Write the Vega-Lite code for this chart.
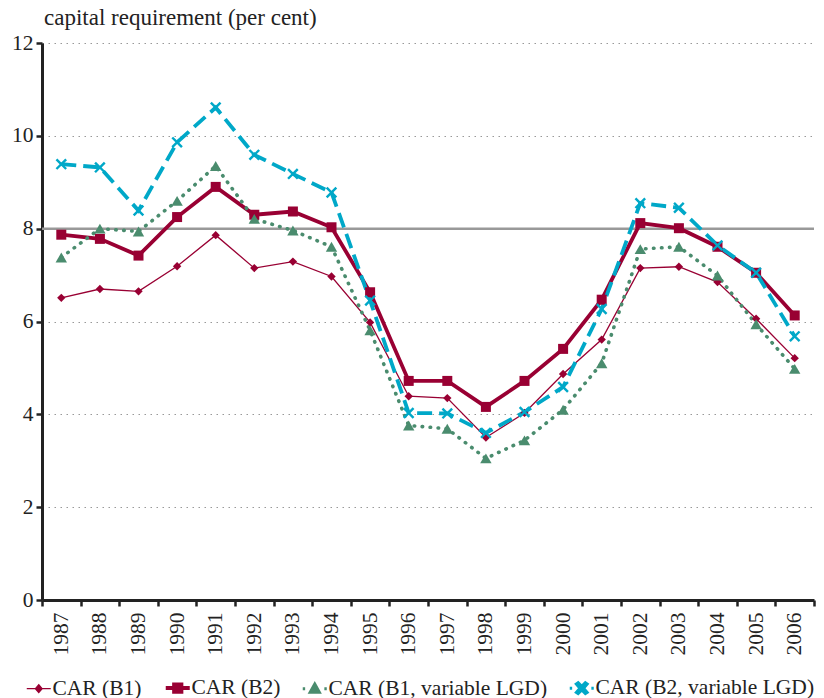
{
"$schema": "https://vega.github.io/schema/vega-lite/v6.json",
"width": 772, "height": 557,
"autosize": {"type": "none"},
"padding": {"left": 42, "top": 43, "right": 10, "bottom": 98},
"background": "white",
"config": {
 "view": {"stroke": null},
 "font": "Liberation Serif"
},
"title": {"text": "capital requirement (per cent)", "font": "Liberation Serif", "anchor": "start", "frame": "group", "fontSize": 23, "fontWeight": "normal", "color": "#222", "offset": 2, "dx": 2},
"data": {"values": [
{"year":1987,"series":"CAR (B1)","value":6.51},{"year":1988,"series":"CAR (B1)","value":6.70},{"year":1989,"series":"CAR (B1)","value":6.65},{"year":1990,"series":"CAR (B1)","value":7.19},{"year":1991,"series":"CAR (B1)","value":7.86},{"year":1992,"series":"CAR (B1)","value":7.15},{"year":1993,"series":"CAR (B1)","value":7.29},{"year":1994,"series":"CAR (B1)","value":6.97},{"year":1995,"series":"CAR (B1)","value":5.98},{"year":1996,"series":"CAR (B1)","value":4.39},{"year":1997,"series":"CAR (B1)","value":4.35},{"year":1998,"series":"CAR (B1)","value":3.50},{"year":1999,"series":"CAR (B1)","value":4.03},{"year":2000,"series":"CAR (B1)","value":4.87},{"year":2001,"series":"CAR (B1)","value":5.61},{"year":2002,"series":"CAR (B1)","value":7.15},{"year":2003,"series":"CAR (B1)","value":7.18},{"year":2004,"series":"CAR (B1)","value":6.85},{"year":2005,"series":"CAR (B1)","value":6.06},{"year":2006,"series":"CAR (B1)","value":5.21},
{"year":1987,"series":"CAR (B2)","value":7.87},{"year":1988,"series":"CAR (B2)","value":7.78},{"year":1989,"series":"CAR (B2)","value":7.42},{"year":1990,"series":"CAR (B2)","value":8.25},{"year":1991,"series":"CAR (B2)","value":8.90},{"year":1992,"series":"CAR (B2)","value":8.30},{"year":1993,"series":"CAR (B2)","value":8.37},{"year":1994,"series":"CAR (B2)","value":8.03},{"year":1995,"series":"CAR (B2)","value":6.63},{"year":1996,"series":"CAR (B2)","value":4.72},{"year":1997,"series":"CAR (B2)","value":4.72},{"year":1998,"series":"CAR (B2)","value":4.16},{"year":1999,"series":"CAR (B2)","value":4.72},{"year":2000,"series":"CAR (B2)","value":5.41},{"year":2001,"series":"CAR (B2)","value":6.47},{"year":2002,"series":"CAR (B2)","value":8.12},{"year":2003,"series":"CAR (B2)","value":8.01},{"year":2004,"series":"CAR (B2)","value":7.61},{"year":2005,"series":"CAR (B2)","value":7.05},{"year":2006,"series":"CAR (B2)","value":6.13},
{"year":1987,"series":"CAR (B1, variable LGD)","value":7.38},{"year":1988,"series":"CAR (B1, variable LGD)","value":8.00},{"year":1989,"series":"CAR (B1, variable LGD)","value":7.94},{"year":1990,"series":"CAR (B1, variable LGD)","value":8.60},{"year":1991,"series":"CAR (B1, variable LGD)","value":9.35},{"year":1992,"series":"CAR (B1, variable LGD)","value":8.21},{"year":1993,"series":"CAR (B1, variable LGD)","value":7.96},{"year":1994,"series":"CAR (B1, variable LGD)","value":7.61},{"year":1995,"series":"CAR (B1, variable LGD)","value":5.81},{"year":1996,"series":"CAR (B1, variable LGD)","value":3.76},{"year":1997,"series":"CAR (B1, variable LGD)","value":3.69},{"year":1998,"series":"CAR (B1, variable LGD)","value":3.05},{"year":1999,"series":"CAR (B1, variable LGD)","value":3.44},{"year":2000,"series":"CAR (B1, variable LGD)","value":4.10},{"year":2001,"series":"CAR (B1, variable LGD)","value":5.10},{"year":2002,"series":"CAR (B1, variable LGD)","value":7.56},{"year":2003,"series":"CAR (B1, variable LGD)","value":7.61},{"year":2004,"series":"CAR (B1, variable LGD)","value":6.99},{"year":2005,"series":"CAR (B1, variable LGD)","value":5.94},{"year":2006,"series":"CAR (B1, variable LGD)","value":4.98},
{"year":1987,"series":"CAR (B2, variable LGD)","value":9.39},{"year":1988,"series":"CAR (B2, variable LGD)","value":9.32},{"year":1989,"series":"CAR (B2, variable LGD)","value":8.39},{"year":1990,"series":"CAR (B2, variable LGD)","value":9.86},{"year":1991,"series":"CAR (B2, variable LGD)","value":10.61},{"year":1992,"series":"CAR (B2, variable LGD)","value":9.59},{"year":1993,"series":"CAR (B2, variable LGD)","value":9.18},{"year":1994,"series":"CAR (B2, variable LGD)","value":8.78},{"year":1995,"series":"CAR (B2, variable LGD)","value":6.45},{"year":1996,"series":"CAR (B2, variable LGD)","value":4.03},{"year":1997,"series":"CAR (B2, variable LGD)","value":4.02},{"year":1998,"series":"CAR (B2, variable LGD)","value":3.60},{"year":1999,"series":"CAR (B2, variable LGD)","value":4.05},{"year":2000,"series":"CAR (B2, variable LGD)","value":4.59},{"year":2001,"series":"CAR (B2, variable LGD)","value":6.27},{"year":2002,"series":"CAR (B2, variable LGD)","value":8.55},{"year":2003,"series":"CAR (B2, variable LGD)","value":8.45},{"year":2004,"series":"CAR (B2, variable LGD)","value":7.64},{"year":2005,"series":"CAR (B2, variable LGD)","value":7.05},{"year":2006,"series":"CAR (B2, variable LGD)","value":5.68}
]},
"encoding": {
 "x": {"field": "year", "type": "ordinal", "scale": {"type": "band", "paddingInner": 0, "paddingOuter": 0},
  "axis": {"labelFont": "Liberation Serif", "labelAngle": -90, "labelAlign": "right", "labelBaseline": "middle", "tickBand": "extent", "domainColor": "#222", "domainWidth": 3, "tickColor": "#222", "tickWidth": 2.5, "tickSize": 6, "labelFontSize": 21.5, "labelColor": "#222", "labelPadding": 6, "grid": false, "title": null}},
 "y": {"field": "value", "type": "quantitative", "scale": {"domain": [0, 12]},
  "axis": {"labelFont": "Liberation Serif", "values": [0, 2, 4, 6, 8, 10, 12], "grid": true, "gridDash": [1.5, 4.5], "gridColor": "#999", "gridWidth": 1.2, "domainColor": "#222", "domainWidth": 3, "tickColor": "#222", "tickWidth": 2.5, "tickSize": 6, "labelFontSize": 21.5, "labelColor": "#222", "labelPadding": 3, "title": null}}
},
"layer": [
 {"data": {"values": [{"ref": 8}]},
  "mark": {"type": "rule", "color": "#999999", "strokeWidth": 2.5},
  "encoding": {"x": null, "y": {"field": "ref", "type": "quantitative"}}},
 {"transform": [{"filter": "datum.series === 'CAR (B1)'"}],
  "mark": {"type": "line", "color": "#990033", "strokeWidth": 1.3}},
 {"transform": [{"filter": "datum.series === 'CAR (B2)'"}],
  "mark": {"type": "line", "color": "#990033", "strokeWidth": 3.8}},
 {"transform": [{"filter": "datum.series === 'CAR (B1, variable LGD)'"}],
  "mark": {"type": "line", "color": "#4a8c6e", "strokeWidth": 3.6, "strokeDash": [0.5, 7.5], "strokeCap": "round"}},
 {"transform": [{"filter": "datum.series === 'CAR (B2, variable LGD)'"}],
  "mark": {"type": "line", "color": "#00a8c8", "strokeWidth": 3.8, "strokeDash": [15, 7]}},
 {"transform": [{"filter": "datum.series === 'CAR (B1)'"}],
  "mark": {"type": "point", "shape": "diamond", "filled": true, "opacity": 1, "color": "#990033", "size": 70}},
 {"transform": [{"filter": "datum.series === 'CAR (B2)'"}],
  "mark": {"type": "point", "shape": "square", "filled": true, "opacity": 1, "color": "#990033", "size": 100}},
 {"transform": [{"filter": "datum.series === 'CAR (B1, variable LGD)'"}],
  "mark": {"type": "point", "shape": "triangle-up", "filled": true, "opacity": 1, "color": "#4a8c6e", "size": 130}},
 {"transform": [{"filter": "datum.series === 'CAR (B2, variable LGD)'"}],
  "mark": {"type": "point", "shape": "M-1,-0.7L-0.7,-1L0,-0.3L0.7,-1L1,-0.7L0.3,0L1,0.7L0.7,1L0,0.3L-0.7,1L-1,0.7L-0.3,0Z", "filled": true, "opacity": 1, "color": "#00a8c8", "size": 130}},
 {"mark": {"type": "point", "filled": true, "opacity": 0},
  "encoding": {
   "color": {"field": "series", "type": "nominal",
    "scale": {"domain": ["CAR (B1)", "CAR (B2)", "CAR (B1, variable LGD)", "CAR (B2, variable LGD)"], "range": ["#990033", "#990033", "#4a8c6e", "#00a8c8"]},
    "legend": {"orient": "none", "legendX": -14, "legendY": 634, "direction": "horizontal", "title": null, "labelFont": "Liberation Serif", "labelFontSize": 21.5, "labelColor": "#222", "labelOffset": 3, "columnPadding": 15, "symbolSize": 576, "symbolOpacity": 1, "labelLimit": 400,
     "encode": {"symbols": {"update": {
      "shape": {"signal": "datum.value === 'CAR (B1)' ? 'M-1,0H1M0,-0.32L0.28,0L0,0.32L-0.28,0Z' : datum.value === 'CAR (B2)' ? 'M-1,0H1M-0.3,-0.3H0.3V0.3H-0.3Z' : datum.value === 'CAR (B1, variable LGD)' ? 'M-1,0H-0.8M0.8,0H1M0,-0.38L0.38,0.3H-0.38Z' : 'M-1,0H-0.8M0.8,0H1M-0.45,-0.35L-0.3,-0.45L0,-0.15L0.3,-0.45L0.45,-0.35L0.15,0L0.45,0.35L0.3,0.45L0,0.15L-0.3,0.45L-0.45,0.35L-0.15,0Z'"},
      "strokeWidth": {"signal": "datum.value === 'CAR (B2)' ? 4 : datum.value === 'CAR (B1)' ? 1.3 : 3"},
      "fill": {"signal": "scale('color', datum.value)"},
      "stroke": {"signal": "scale('color', datum.value)"},
      "opacity": {"value": 1}}}}}}}}
]
}
